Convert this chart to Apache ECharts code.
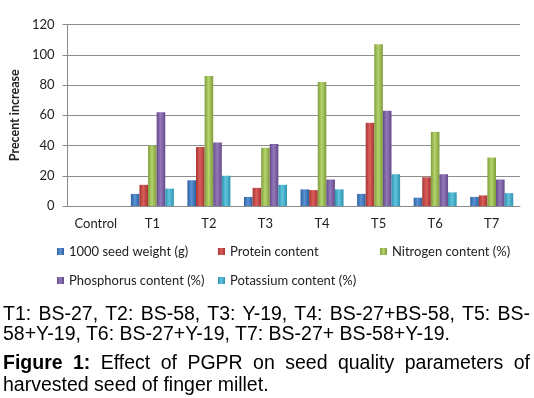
<!DOCTYPE html>
<html>
<head>
<meta charset="utf-8">
<script src="https://cdn.jsdelivr.net/npm/echarts@6/dist/echarts.min.js"></script>
<style>
  body { margin: 0; background: #fff; }
  #chart { position: absolute; left: 0; top: 0; width: 534px; height: 398px; }
  .cap { position: absolute; left: 3px; width: 527px; font-family: "Liberation Sans", Arial, sans-serif;
         font-size: 19.5px; color: #000; white-space: nowrap; line-height: 22px; }
  .just { text-align: justify; text-align-last: justify; white-space: normal; }
</style>
</head>
<body>
<div id="chart"></div>
<div class="cap just" style="top:302px">T1: BS-27, T2: BS-58, T3: Y-19, T4: BS-27+BS-58, T5: BS-</div>
<div class="cap" style="top:322px">58+Y-19, T6: BS-27+Y-19, T7: BS-27+ BS-58+Y-19.</div>
<div class="cap just" style="top:351px"><b>Figure 1:</b> Effect of PGPR on seed quality parameters of</div>
<div class="cap" style="top:373px">harvested seed of finger millet.</div>
<script>
const categories = ['Control', 'T1', 'T2', 'T3', 'T4', 'T5', 'T6', 'T7']
const seedWeight = [0, 8, 17, 6, 11, 8, 5.5, 6]
const protein = [0, 14, 39, 12, 10.5, 55, 19, 7]
const nitrogen = [0, 40, 86, 38.5, 82, 107, 49, 32]
const phosphorus = [0, 62, 42, 41, 17.5, 63, 21, 17.5]
const potassium = [0, 11.5, 20, 14, 11, 21, 9, 8.5]
const seriesNames = ['1000 seed weight (g)', 'Protein content', 'Nitrogen content (%)',
    'Phosphorus content (%)', 'Potassium content (%)']

const myChart = echarts.init(document.getElementById('chart'))

// office style colours, edge / middle
const shades = [
    ['#2d5f9e', '#5b93d6'],
    ['#a33431', '#dc5e5a'],
    ['#7f9c3c', '#b4d46c'],
    ['#634a88', '#9479ba'],
    ['#2c93b0', '#62c4de']
]

function grad(c) {
    return new echarts.graphic.LinearGradient(0, 0, 1, 0, [
        {offset: 0, color: c[0]},
        {offset: 0.45, color: c[1]},
        {offset: 1, color: c[0]}
    ])
}

const allData = [seedWeight, protein, nitrogen, phosphorus, potassium]
const series = allData.map((data, i) => ({
    name: seriesNames[i],
    type: 'bar',
    data,
    barGap: '0%',
    barCategoryGap: '24%',
    itemStyle: {color: grad(shades[i])}
}))

const legendPos = [[57, 245], [218, 245], [380, 245], [57, 274], [218, 274]]
const legend = seriesNames.map((name, i) => ({
    data: [name],
    left: legendPos[i][0],
    top: legendPos[i][1],
    icon: 'rect',
    itemWidth: 7,
    itemHeight: 7,
    padding: 0,
    textStyle: {fontFamily: 'Lato', fontSize: 13, color: '#222'}
}))

const option = {
    animation: false,
    color: shades.map(s => s[1]),
    grid: {left: 62, right: 14, top: 24.5, bottom: 192},
    legend,
    xAxis: {
        type: 'category',
        data: categories,
        axisTick: {show: false},
        axisLine: {lineStyle: {color: '#8c8c8c'}},
        axisLabel: {fontFamily: 'Lato', fontSize: 13, color: '#222', margin: 11}
    },
    yAxis: {
        type: 'value',
        min: 0,
        max: 120,
        interval: 20,
        name: 'Precent increase',
        nameLocation: 'middle',
        nameGap: 46,
        nameTextStyle: {fontFamily: 'Lato', fontSize: 12.5, fontWeight: 'bold', color: '#222'},
        axisLine: {show: true, lineStyle: {color: '#8c8c8c'}},
        axisTick: {show: true, length: 5, lineStyle: {color: '#8c8c8c'}},
        axisLabel: {fontFamily: 'Lato', fontSize: 13, color: '#222', margin: 13},
        splitLine: {lineStyle: {color: '#8c8c8c'}}
    },
    series
}

myChart.setOption(option)
</script>
</body>
</html>
